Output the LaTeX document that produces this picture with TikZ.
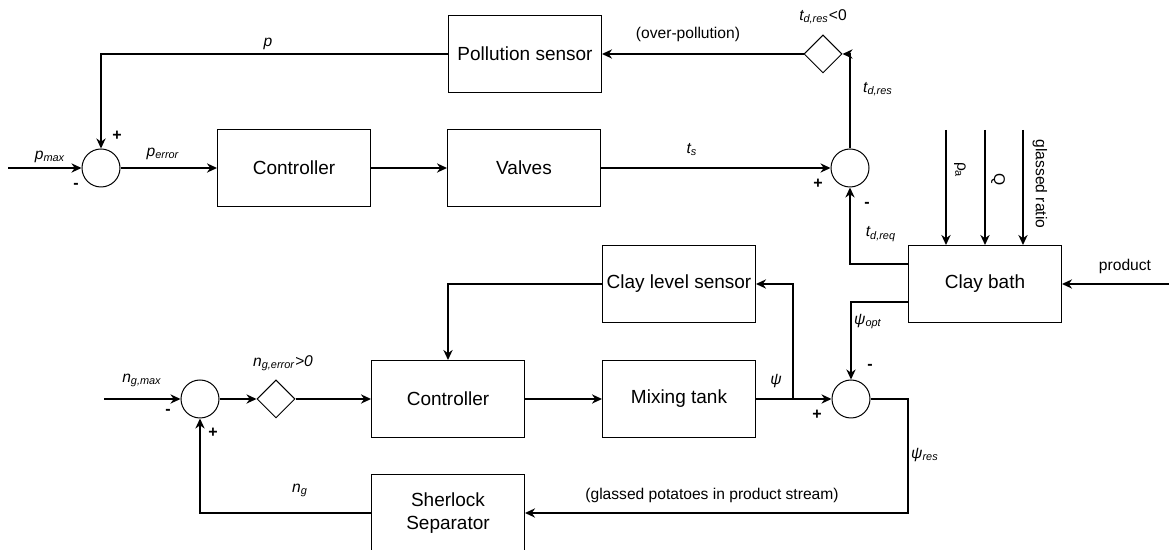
\documentclass[tikz,border=0pt]{standalone}
\usepackage{fontspec}
\setmainfont{Liberation Sans}
\usetikzlibrary{arrows.meta,shapes.geometric,calc}
\begin{document}
\begin{tikzpicture}[x=0.5pt,y=-0.5pt,
  blockbox/.style={draw,line width=0.5pt,minimum width=76.5pt,minimum height=38.5pt,inner sep=1pt,
    font=\fontsize{9.5pt}{11.5pt}\selectfont,align=center},
  sumnode/.style={draw,circle,line width=0.5pt,minimum size=19pt,inner sep=0pt},
  gate/.style={draw,diamond,line width=0.5pt,minimum width=19pt,minimum height=19pt,inner sep=0pt},
  arr/.style={line width=1pt,-{Stealth[length=5pt,width=4.6pt,inset=1.6pt]}},
  wire/.style={line width=1pt},
  lbl/.style={font=\fontsize{7.8pt}{9pt}\selectfont,inner sep=0pt},
  sgn/.style={font=\fontsize{8pt}{9pt}\selectfont\bfseries,inner sep=0pt}]
\useasboundingbox (0,0) rectangle (1169,550);

% blocks
\node[blockbox] (ps) at (525,54) {Pollution sensor};
\node[blockbox] (ctl1) at (294,168) {Controller};
\node[blockbox] (valves) at (524,168) {Valves};
\node[blockbox] (clay) at (985,284) {Clay bath};
\node[blockbox] (cls) at (679,284) {Clay level sensor};
\node[blockbox] (ctl2) at (448,399) {Controller};
\node[blockbox] (mix) at (679,399) {Mixing tank};
\node[blockbox] (sher) at (448,513) {Sherlock\\Separator};

% summing points and decision gates
\node[sumnode] (s1) at (101,168) {};
\node[sumnode] (s2) at (850,168) {};
\node[sumnode] (s3) at (851,399) {};
\node[sumnode] (s4) at (200,399) {};
\node[gate] (d1) at (823,54) {};
\node[gate] (d2) at (276,399) {};

% free ends
\coordinate (pmax) at (8,168);
\coordinate (ngmax) at (104,399);
\coordinate (prod) at (1169,284);
\coordinate (in1) at (946,130);
\coordinate (in2) at (985,130);
\coordinate (in3) at (1023,130);
\coordinate (br) at (793,399);
\coordinate (psr) at (908,455);

% pollution loop
\draw[arr] (s2.north) |- (d1.east);
\draw[arr] (d1.west) -- (ps.east);
\draw[arr] (ps.west) -| (s1.north);
\draw[arr] (pmax) -- (s1.west);
\draw[arr] (s1.east) -- (ctl1.west);
\draw[arr] (ctl1.east) -- (valves.west);
\draw[arr] (valves.east) -- (s2.west);
\draw[arr] ($(clay.west)+(0,-20)$) -| (s2.south);

% clay bath inputs
\draw[arr] (in1) -- (in1 |- clay.north);
\draw[arr] (in2) -- (in2 |- clay.north);
\draw[arr] (in3) -- (in3 |- clay.north);
\draw[arr] (prod) -- (clay.east);

% glassing loop
\draw[arr] ($(clay.west)+(0,18)$) -| (s3.north);
\draw[arr] (mix.east) -- (s3.west);
\draw[arr] (br) |- (cls.east);
\draw[arr] (cls.west) -| (ctl2.north);
\draw[arr] (s3.east) -| (psr) |- (sher.east);
\draw[arr] (sher.west) -| (s4.south);
\draw[arr] (ngmax) -- (s4.west);
\draw[arr] (s4.east) -- (d2.west);
\draw[arr] (d2.east) -- (ctl2.west);
\draw[arr] (ctl2.east) -- (mix.west);

% signal labels
\node[lbl] at (268,44) {\textit{p}};
\node[lbl] at (50,157) {\textit{p\textsubscript{max}}};
\node[lbl] at (163,154) {\textit{p\textsubscript{error}}};
\node[lbl] at (692,150) {\textit{t\textsubscript{s}}};
\node[lbl] at (688,34) {(over-pollution)};
\node[lbl] at (823,17) {\textit{t\textsubscript{d,res}}<0};
\node[lbl] at (878,89) {\textit{t\textsubscript{d,res}}};
\node[lbl] at (881,234) {\textit{t\textsubscript{d,req}}};
\node[lbl,rotate=-90] at (960,170) {ρ\textsubscript{a}};
\node[lbl,rotate=-90] at (998,180) {Q};
\node[lbl,rotate=-90] at (1040,184) {glassed ratio};
\node[lbl] at (1125,266) {product};
\node[lbl] at (868,322) {\textit{ψ\textsubscript{opt}}};
\node[lbl] at (776,381) {\textit{ψ}};
\node[lbl] at (925,455) {\textit{ψ\textsubscript{res}}};
\node[lbl] at (712,495) {(glassed potatoes in product stream)};
\node[lbl] at (300,490) {\textit{n\textsubscript{g}}};
\node[lbl] at (142,380) {\textit{n\textsubscript{g,max}}};
\node[lbl] at (283,363) {\textit{n\textsubscript{g,error}>0}};

% signs
\node[sgn] at (117,136) {+};
\node[sgn] at (76,186) {-};
\node[sgn] at (818,184) {+};
\node[sgn] at (867,205) {-};
\node[sgn] at (870,367) {-};
\node[sgn] at (817,415) {+};
\node[sgn] at (168,412) {-};
\node[sgn] at (213,433) {+};
\end{tikzpicture}
\end{document}
